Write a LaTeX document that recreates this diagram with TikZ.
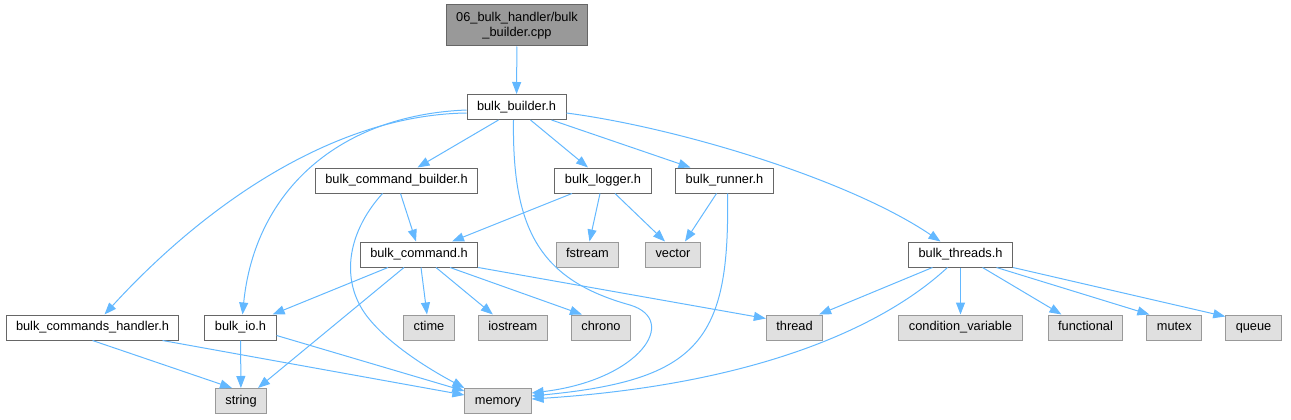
\documentclass[tikz,border=0pt]{standalone}
\usepackage{fontspec}
\setmainfont{Liberation Sans}
\usetikzlibrary{positioning, arrows.meta}
\definecolor{edgeblue}{HTML}{63B8FF}
\definecolor{boxline}{HTML}{666666}
\definecolor{sysline}{HTML}{999999}
\definecolor{sysfill}{HTML}{E0E0E0}
\definecolor{topfill}{HTML}{999999}

\begin{document}
\begin{tikzpicture}[x=1pt, y=-1pt,
    filebox/.style={draw=boxline, fill=#1, font=\fontsize{12.8}{15}\selectfont, minimum height=25pt, text height=9.3pt, text depth=2.7pt, inner xsep=10pt, inner ysep=2pt, line width=1pt},
    filebox/.default=white,
    sysbox/.style={filebox=sysfill, draw=sysline},
    incarrow/.style={-{Triangle[length=12pt, width=9pt]}, line width=1pt, edgeblue}
  ]
  \useasboundingbox (0,0) rectangle (1291,420);

  \node[filebox=topfill, align=center, minimum height=41pt, text height=, text depth=] (cpp) at (517,25.5) {06\_bulk\_handler/bulk\\\_builder.cpp};
  \node[filebox] (builder) at (516.5,107) {bulk\_builder.h};
  \node[filebox] (cmdbuilder) at (396.5,180.5) {bulk\_command\_builder.h};
  \node[filebox] (logger) at (603,180.5) {bulk\_logger.h};
  \node[filebox] (runner) at (724.5,180.5) {bulk\_runner.h};
  \node[filebox] (command) at (419,254.5) {bulk\_command.h};
  \node[sysbox] (fstream) at (587.5,254.5) {fstream};
  \node[sysbox] (vector) at (673,254.5) {vector};
  \node[filebox] (threads) at (960.5,254.5) {bulk\_threads.h};
  \node[filebox] (handler) at (92.5,327.5) {bulk\_commands\_handler.h};
  \node[filebox] (io) at (240.5,327.5) {bulk\_io.h};
  \node[sysbox] (ctime) at (429,327.5) {ctime};
  \node[sysbox, right=23pt of ctime] (iostream) {iostream};
  \node[sysbox, right=23pt of iostream] (chrono) {chrono};
  \node[sysbox] (thread) at (794.5,327.5) {thread};
  \node[sysbox] (condvar) at (960.5,327.5) {condition\_variable};
  \node[sysbox, right=25pt of condvar] (functional) {functional};
  \node[sysbox, right=23pt of functional] (mutex) {mutex};
  \node[sysbox, right=23pt of mutex] (queue) {queue};
  \node[sysbox] (string) at (241,401) {string};
  \node[sysbox] (memory) at (498,401) {memory};

  % bulk_builder.h
  \draw[incarrow] (cpp) -- (builder);
  \draw[incarrow] ([yshift=-6pt]builder.west) .. controls (330,115) and (200,210) .. ([xshift=12pt]handler.north);
  \draw[incarrow] ([yshift=-3pt]builder.west) .. controls (340,115) and (255,190) .. ([xshift=2pt]io.north);
  \draw[incarrow] ([xshift=-18pt]builder.south) -- ([xshift=21pt]cmdbuilder.north);
  \draw[incarrow] ([xshift=14pt]builder.south) -- ([xshift=-15pt]logger.north);
  \draw[incarrow] ([xshift=35pt]builder.south) -- ([xshift=-34pt]runner.north);
  \draw[incarrow] ([yshift=-6pt]builder.east) .. controls (680,128) and (850,180) .. ([xshift=-20pt]threads.north);
  \draw[incarrow] ([xshift=-3pt]builder.south) .. controls (512,230) and (540,280) .. (630,305)
    .. controls (680,320) and (640,380) .. ([yshift=8pt]memory.east);

  % second row
  \draw[incarrow] ([xshift=4pt]cmdbuilder.south) -- ([xshift=-3pt]command.north);
  \draw[incarrow] ([xshift=-14pt]cmdbuilder.south) .. controls (345,235) and (340,285) .. (370,320)
    .. controls (395,350) and (440,375) .. (memory.north west);
  \draw[incarrow] ([xshift=-31pt]logger.south) -- ([xshift=33pt]command.north);
  \draw[incarrow] ([xshift=-3pt]logger.south) -- ([xshift=2pt]fstream.north);
  \draw[incarrow] ([xshift=12pt]logger.south) -- ([xshift=-8pt]vector.north);
  \draw[incarrow] ([xshift=-8pt]runner.south) -- ([xshift=12pt]vector.north);
  \draw[incarrow] ([xshift=3pt]runner.south) .. controls (730,340) and (700,380) .. ([yshift=5pt]memory.east);

  % bulk_command.h
  \draw[incarrow] ([xshift=-31pt]command.south) -- ([xshift=-4pt]io.north east);
  \draw[incarrow] ([xshift=-15pt]command.south) -- ([xshift=17pt]string.north);
  \draw[incarrow] ([xshift=2pt]command.south) -- ([xshift=-2pt]ctime.north);
  \draw[incarrow] ([xshift=17pt]command.south) -- ([xshift=-20pt]iostream.north);
  \draw[incarrow] ([xshift=31pt]command.south) -- ([xshift=-19pt]chrono.north);
  \draw[incarrow] (command.south east) -- ([yshift=9pt]thread.west);

  % bulk_threads.h
  \draw[incarrow] ([xshift=-28pt]threads.south) -- ([xshift=-4pt]thread.north east);
  \draw[incarrow] ([xshift=-13pt]threads.south) .. controls (880,330) and (750,385) .. ([yshift=2pt]memory.east);
  \draw[incarrow] (threads) -- (condvar);
  \draw[incarrow] ([xshift=22pt]threads.south) -- ([xshift=-24pt]functional.north);
  \draw[incarrow] ([xshift=36pt]threads.south) -- ([xshift=3pt]mutex.north west);
  \draw[incarrow] (threads.south east) -- ([yshift=-2pt]queue.north west);

  % bottom row
  \draw[incarrow] (handler.south) -- ([xshift=-9pt]string.north);
  \draw[incarrow] ([xshift=70pt]handler.south) -- ([yshift=6pt]memory.west);
  \draw[incarrow] (io) -- (string);
  \draw[incarrow] ([yshift=-8pt]io.east) -- ([yshift=10pt]memory.west);
\end{tikzpicture}
\end{document}
